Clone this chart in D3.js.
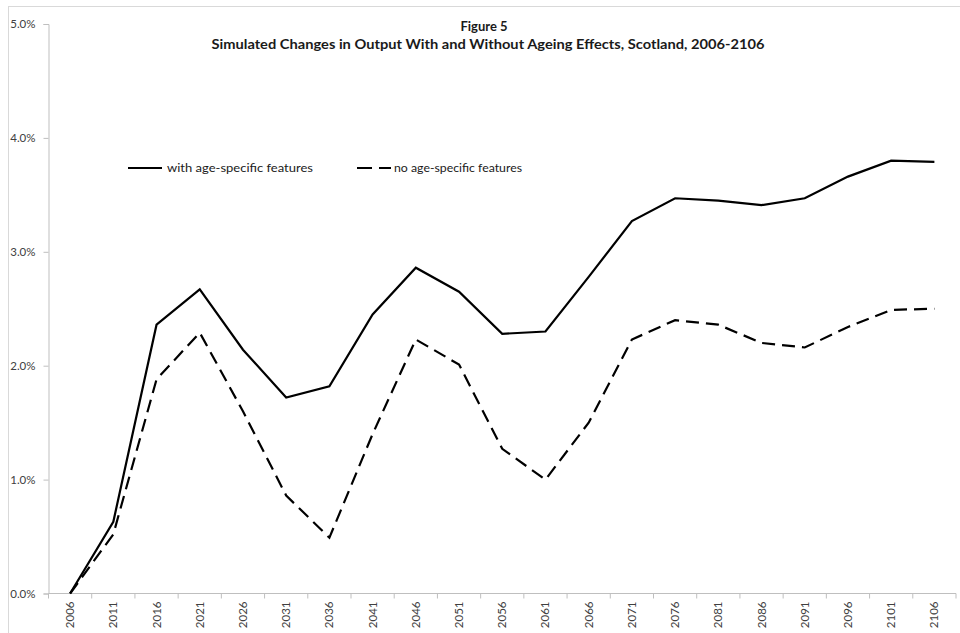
<!DOCTYPE html>
<html>
<head>
<meta charset="utf-8">
<script src="https://cdn.jsdelivr.net/npm/d3@7"></script>
<style>
  html, body { margin: 0; padding: 0; background: #fff; }
  svg { display: block; }
</style>
</head>
<body>
<svg id="chart" width="960" height="633"></svg>
<script>
const years = ["2006","2011","2016","2021","2026","2031","2036","2041","2046","2051","2056","2061","2066","2071","2076","2081","2086","2091","2096","2101","2106"];
const withAge = [0.0, 0.63, 2.36, 2.67, 2.14, 1.72, 1.82, 2.45, 2.86, 2.65, 2.28, 2.30, 2.78, 3.27, 3.47, 3.45, 3.41, 3.47, 3.66, 3.80, 3.79];
const noAge   = [0.0, 0.52, 1.88, 2.29, 1.60, 0.86, 0.49, 1.40, 2.23, 2.01, 1.27, 1.00, 1.50, 2.23, 2.40, 2.36, 2.20, 2.16, 2.34, 2.49, 2.50];
const yTicks = [0, 1, 2, 3, 4, 5];
const titleLines = ["Figure 5", "Simulated Changes in Output With and Without Ageing Effects, Scotland, 2006-2106"];
const legendLabels = ["with age-specific features", "no age-specific features"];

const svg = d3.select("#chart");
const font = "Lato, 'Open Sans', sans-serif";
const axisColor = "#bfbfbf";
const textColor = "#404040";

// outer chart border
svg.append("rect").attr("x", 8.5).attr("y", 6.5).attr("width", 960).attr("height", 640)
  .attr("fill", "none").attr("stroke", "#d9d9d9").attr("stroke-width", 1);

const plotLeft = 48.5, plotRight = 956, plotTop = 24, plotBottom = 593.5;

const x = d3.scaleBand().domain(years).range([plotLeft, plotRight]).padding(0);
const y = d3.scaleLinear().domain([0, 5]).range([plotBottom, plotTop]);

// Y axis
const yAxis = d3.axisLeft(y).tickValues(yTicks).tickSize(5).tickPadding(8)
  .tickFormat(d => d.toFixed(1) + "%");
const gy = svg.append("g").attr("transform", `translate(${plotLeft},0)`).call(yAxis);
gy.select(".domain").attr("stroke", axisColor);
gy.selectAll(".tick line").attr("stroke", axisColor);
gy.selectAll(".tick text").attr("fill", textColor).style("font-family", font).style("font-size", "11.5px");

// X axis: ticks at band boundaries
const gx = svg.append("g").attr("transform", `translate(0,${plotBottom})`);
gx.append("line").attr("x1", plotLeft).attr("x2", plotRight).attr("y1", 0).attr("y2", 0).attr("stroke", axisColor);
const boundaries = years.map(d => x(d)).concat([plotRight]);
gx.selectAll("line.tk").data(boundaries).enter().append("line")
  .attr("class", "tk")
  .attr("x1", d => d).attr("x2", d => d).attr("y1", 0).attr("y2", 5)
  .attr("stroke", axisColor);
gx.selectAll("text.lbl").data(years).enter().append("text")
  .attr("class", "lbl")
  .attr("transform", d => `translate(${x(d) + x.bandwidth() / 2 + 4},8) rotate(-90)`)
  .attr("text-anchor", "end")
  .attr("fill", textColor)
  .style("font-family", font).style("font-size", "11.5px")
  .text(d => d);

// Lines
const line = d3.line()
  .x((d, i) => x(years[i]) + x.bandwidth() / 2)
  .y(d => y(d));

svg.append("path").datum(withAge).attr("d", line)
  .attr("fill", "none").attr("stroke", "#000").attr("stroke-width", 2.2)
  .attr("stroke-linejoin", "miter");
svg.append("path").datum(noAge).attr("d", line)
  .attr("fill", "none").attr("stroke", "#000").attr("stroke-width", 2.2)
  .attr("stroke-dasharray", "13,7");

// Title
svg.append("text").attr("x", 484).attr("y", 31).attr("text-anchor", "middle")
  .style("font-family", font).style("font-weight", "bold").style("font-size", "13px")
  .attr("fill", "#1a1a1a").text(titleLines[0]);
svg.append("text").attr("x", 488).attr("y", 49).attr("text-anchor", "middle")
  .attr("textLength", 553).attr("lengthAdjust", "spacingAndGlyphs")
  .style("font-family", font).style("font-weight", "bold").style("font-size", "13px")
  .attr("fill", "#1a1a1a").text(titleLines[1]);

// Legend
const leg = [
  { x1: 128, x2: 162, tx: 167, len: 146, dash: null, label: legendLabels[0] },
  { x1: 357, x2: 391, tx: 394, len: 128, dash: "15,7", label: legendLabels[1] }
];
leg.forEach(l => {
  svg.append("line").attr("x1", l.x1).attr("x2", l.x2).attr("y1", 168).attr("y2", 168)
    .attr("stroke", "#000").attr("stroke-width", 2.2)
    .attr("stroke-dasharray", l.dash);
  svg.append("text").attr("x", l.tx).attr("y", 172)
    .attr("textLength", l.len).attr("lengthAdjust", "spacingAndGlyphs")
    .style("font-family", font).style("font-size", "12px")
    .attr("fill", "#1a1a1a").text(l.label);
});
</script>
</body>
</html>
